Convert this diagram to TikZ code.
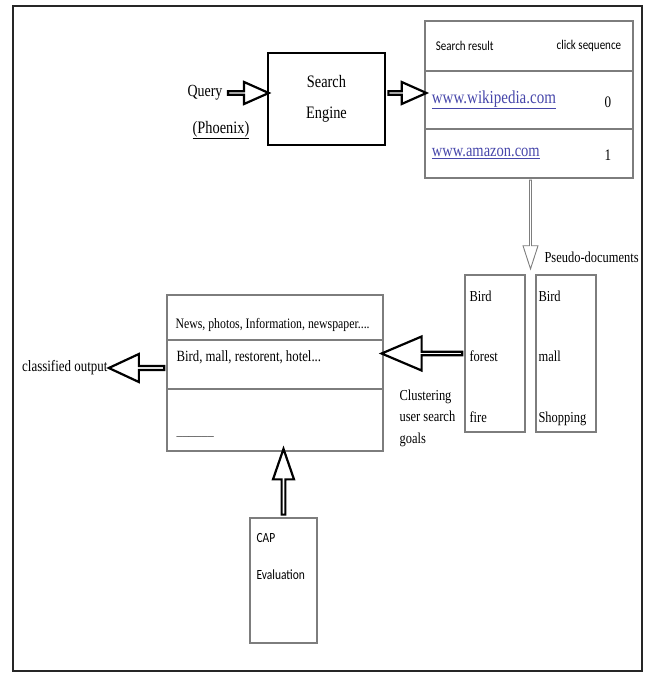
\documentclass[tikz,border=0pt]{standalone}
\usepackage{fontspec}
\setmainfont{Liberation Serif}[FakeStretch=0.82]
\newfontfamily\calibri{Carlito}[FakeStretch=0.82]
\usetikzlibrary{shapes.arrows,calc}

\definecolor{linkblue}{RGB}{70,70,170}
\definecolor{boxgray}{RGB}{125,125,125}

\tikzset{
	caja/.style={draw=boxgray, line width=1.3pt, inner sep=0pt},
	textocaja/.style={anchor=north west, align=left, inner sep=0pt, font=\fontsize{15.2}{60.5}\selectfont},
	flecha/.style={single arrow, draw=black, line width=2.2pt, fill=white, inner sep=0pt, single arrow head indent=0pt},
	flechagris/.style={single arrow, draw=boxgray, line width=0.9pt, fill=white, inner sep=0pt, single arrow head indent=0pt},
}

% flecha hueca de un punto a otro
\newcommand{\blockarrow}[3][]{%
	\path let \p1=($(#3)-(#2)$), \n1={veclen(\x1,\y1)} in
		(#2) -- (#3) node[midway, sloped, allow upside down, minimum height=\n1, #1] {};}

\begin{document}
\begin{tikzpicture}[x=1pt,y=-1pt]
		
		\useasboundingbox (0,0) rectangle (648,677);
		
		% Marco
		\draw[line width=1.6pt, black!85] (13,6) rectangle (642,671);
		
		% Consulta y buscador
		\node[font=\fontsize{17}{19}\selectfont] (query) at (205,93) {Query};
		\node[font=\fontsize{17.5}{19}\selectfont] (phoenix) at (221,130) {\underline{(Phoenix)}};
		\node[draw, line width=2.6pt, minimum width=117, minimum height=92, align=center, font=\fontsize{17.5}{31}\selectfont] (engine) at (326.5,99) {Search\\Engine};
		
		% Resultados
		\node[caja, minimum width=208, minimum height=50] (hdr) at (529,46) {};
		\node[caja, minimum width=208, minimum height=58] (wiki) at (529,100) {};
		\node[caja, minimum width=208, minimum height=49] (amaz) at (529,153.5) {};
		\node[anchor=west, font=\calibri\fontsize{13.4}{15}\selectfont] (colres) at ([xshift=8]hdr.west) {Search result};
		\node[anchor=east, font=\calibri\fontsize{13.4}{15}\selectfont] (colclick) at ([xshift=-9]hdr.east) {click sequence};
		\node[anchor=west, text=linkblue, font=\fontsize{18.3}{20}\selectfont] (urlwiki) at ([xshift=4]wiki.west) {\underline{www.wikipedia.com}};
		\node[anchor=west, text=linkblue, font=\fontsize{17.7}{20}\selectfont] (urlamaz) at ([xshift=4]amaz.west) {\underline{www.amazon.com}};
		\node[font=\fontsize{16}{18}\selectfont] (seqwiki) at (608,102) {0};
		\node[font=\fontsize{16}{18}\selectfont] (seqamaz) at (608,155) {1};
		
		% Pseudo-documentos
		\node[caja, minimum width=60, minimum height=157,
			label={[textocaja, xshift=5pt, yshift=-16pt]north west:Bird\\forest\\fire}] (pdA) at (495,353.5) {};
		\node[caja, minimum width=60, minimum height=157,
			label={[textocaja, xshift=3pt, yshift=-16pt]north west:Bird\\mall\\Shopping}] (pdB) at (566,353.5) {};
		\node[anchor=west, font=\fontsize{15.2}{17}\selectfont] (pdlabel) at (541,257) {Pseudo-documents};
		
		% Objetivos
		\node[caja, minimum width=216, minimum height=45] (gHead) at (275,317.5) {};
		\node[caja, minimum width=216, minimum height=49] (gMid) at (275,364.5) {};
		\node[caja, minimum width=216, minimum height=62] (gLow) at (275,420) {};
		\node[anchor=west, font=\fontsize{14.4}{16}\selectfont] (gnews) at (172,325) {News, photos, Information, newspaper....};
		\node[anchor=west, font=\fontsize{15.6}{17}\selectfont] (gbird) at (173,357) {Bird, mall, restorent, hotel...};
		\node[anchor=west, text=black!70, font=\fontsize{15.2}{17}\selectfont] (gdots) at (173,436) {\_\_\_\_\_\_};
		\node[anchor=north west, align=left, font=\fontsize{15.2}{21.5}\selectfont] (clustlbl) at (396,386) {Clustering\\user search\\goals};
		\node[anchor=east, font=\fontsize{15.8}{17}\selectfont] (output) at (111,368) {classified output};
		
		% CAP
		\node[caja, minimum width=67, minimum height=125] (cap) at (283.5,580.5) {};
		\node[anchor=north west, align=left, font=\calibri\fontsize{14}{37}\selectfont] (captxt) at (253,530) {CAP\\Evaluation};
		
		% Flechas
		\coordinate (qtip) at (engine.west |- query);
		\coordinate (etail) at (engine.east |- query);
		\coordinate (etip) at (wiki.west |- query);
		\coordinate (pdtop) at ($(pdA.north east)!0.5!(pdB.north west)+(0,-7)$);
		\coordinate (pdtail) at (amaz.south -| pdtop);
		\coordinate (clustip) at (gMid.east |- pdA.west);
		\coordinate (outtail) at (gMid.west |- output);
		\coordinate (captip) at (cap.north |- gLow.south);
		
		\blockarrow[flecha, minimum width=22, single arrow head extend=5.5, single arrow tip angle=48]{query.east}{qtip}
		\blockarrow[flecha, minimum width=22, single arrow head extend=5.5, single arrow tip angle=48]{etail}{etip}
		\blockarrow[flechagris, minimum width=15, single arrow head extend=3, single arrow tip angle=36]{pdtail}{pdtop}
		\blockarrow[flecha, minimum width=34, single arrow head extend=9.5, single arrow tip angle=46]{pdA.west}{clustip}
		\blockarrow[flecha, minimum width=28, single arrow head extend=6.5, single arrow tip angle=50]{outtail}{output.east}
		\blockarrow[flecha, minimum width=21, single arrow head extend=5, single arrow tip angle=38]{cap.north}{captip}
		
	\end{tikzpicture}
\end{document}
